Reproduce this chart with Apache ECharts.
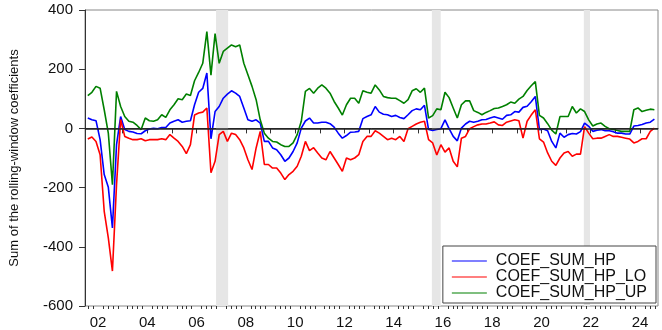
<!DOCTYPE html>
<html>
<head>
<meta charset="utf-8">
<script src="https://cdn.jsdelivr.net/npm/echarts@6/dist/echarts.min.js"></script>
<style>
  html, body { margin: 0; padding: 0; background: #fff; }
  #main { width: 662px; height: 330px; }
</style>
</head>
<body>
<div id="main"></div>
<script>
// observations every two months, first one Aug 2001 (decimal years)
const dates = [];
for (let k = 0; k < 139; k++) dates.push(2001 + (7 + 2 * k) / 12);

// COEF_SUM_HP (blue)
const coefHp = [
  35, 29, 26, -38, -156, -199, -336, -55, 40, -4,
  -10, -12, -17, -18, -8, -2, 0, -1, 3, 3,
  18, 24, 29, 21, 24, 26, 80, 122, 135, 187,
  -35, 57, 74, 102, 116, 127, 119, 108, 69, 29,
  24, 29, 18, -44, -44, -66, -72, -89, -111, -100,
  -78, -49, 1, 25, 35, 18, 18, 21, 21, 16,
  4, -16, -33, -24, -13, -12, -10, 33, 40, 46,
  74, 55, 48, 46, 40, 44, 37, 33, 46, 60,
  66, 63, 78, -4, -7, -4, -1, 29, -1, -27,
  -42, 1, 15, 24, 21, 24, 29, 30, 35, 39,
  35, 31, 44, 46, 57, 55, 71, 75, 90, 108,
  -4, -2, -8, -44, -66, -16, -30, -21, -17, -19,
  -11, 18, 7, -10, -6, -4, -8, -8, -11, -16,
  -16, -19, -19, 8, 10, 13, 18, 21, 31
];

// COEF_SUM_HP_LO (red)
const coefLo = [
  -36, -29, -44, -89, -280, -370, -482, -190, 30, -27,
  -33, -38, -38, -35, -42, -38, -38, -38, -35, -38,
  -21, -33, -44, -61, -85, -55, 45, 52, 55, 69,
  -150, -111, -21, -10, -44, -16, -21, -38, -66, -106,
  -139, -66, -10, -122, -122, -134, -134, -151, -173, -156,
  -145, -128, -94, -44, -75, -65, -83, -100, -106, -78,
  -100, -122, -145, -100, -106, -100, -89, -44, -27, -27,
  -8, -16, -27, -38, -33, -38, -27, -44, -1, 7,
  15, 21, 24, -38, -49, -90, -55, -80, -66, -111,
  -130, -33, -27, -1, 6, 12, 15, 15, 18, 22,
  12, 10, 21, 25, 29, 26, -33, 24, 45, 63,
  -35, -46, -83, -111, -125, -100, -83, -78, -94, -87,
  -87, 6, -16, -35, -33, -33, -27, -21, -27, -27,
  -30, -33, -36, -49, -44, -35, -35, -10, 1
];

// COEF_SUM_HP_UP (green)
const coefUp = [
  111, 122, 142, 136, 63, -16, -190, 125, 74, 40,
  24, 21, 10, -4, 35, 26, 24, 29, 46, 37,
  63, 80, 100, 97, 116, 111, 161, 189, 220, 327,
  180, 320, 220, 260, 271, 282, 276, 282, 220, 181,
  142, 97, 29, -16, -33, -44, -46, -55, -61, -61,
  -49, -21, 24, 125, 135, 119, 136, 147, 136, 119,
  91, 69, 45, 80, 102, 102, 85, 127, 122, 119,
  147, 130, 108, 104, 102, 102, 94, 85, 97, 127,
  134, 122, 136, 35, 43, 66, 63, 122, 104, 69,
  35, 80, 93, 93, 60, 54, 46, 54, 60, 67,
  69, 74, 80, 89, 85, 99, 108, 128, 144, 158,
  44, 35, 16, -6, -19, 40, 40, 40, 74, 52,
  66, 57, 29, 8, 15, 18, 7, -1, -4, -7,
  -10, -10, -10, 63, 69, 57, 61, 65, 63
];

// shaded periods (start, end) in decimal years
const shaded = [[2006.79, 2007.28], [2015.55, 2015.91], [2021.72, 2021.97]];

const yearTicks = [];
for (let y = 2002; y <= 2024; y++) yearTicks.push(y);
const yearLabels = yearTicks.filter(y => y % 2 === 0);

const xMin = 2001.47;
const xMax = 2024.73;

const minorTicks = [];
for (let y = 2001; y <= 2024; y++) {
  for (let j = 1; j < 5; j++) {
    const t = y + j / 5;
    if (t > xMin && t < xMax) minorTicks.push(t);
  }
}

const pairs = vals => vals.map((v, i) => [dates[i], v]);
const font = 'Liberation Sans';

const chart = echarts.init(document.getElementById('main'));
chart.setOption({
  animation: false,
  backgroundColor: '#fff',
  grid: {
    left: 85, right: 4, top: 10, bottom: 23,
    show: true, borderColor: '#888', borderWidth: 1
  },
  legend: {
    data: ['COEF_SUM_HP', 'COEF_SUM_HP_LO', 'COEF_SUM_HP_UP'],
    orient: 'vertical',
    right: 6,
    bottom: 27,
    icon: 'rect',
    itemWidth: 35,
    itemHeight: 1,
    itemGap: 0,
    padding: [7, 9, 2, 9],
    borderColor: '#444',
    borderWidth: 1,
    backgroundColor: '#fff',
    textStyle: { fontFamily: font, fontSize: 16, lineHeight: 15.5, color: '#111', padding: [0, 0, 0, 4] }
  },
  xAxis: [{
    type: 'value',
    min: xMin,
    max: xMax,
    axisLine: { lineStyle: { color: '#333' } },
    axisTick: { customValues: yearTicks, length: 5, lineStyle: { color: '#333' } },
    axisLabel: {
      customValues: yearLabels,
      formatter: v => String(Math.round(v) % 100).padStart(2, '0'),
      margin: 9,
      fontFamily: font,
      fontSize: 15,
      color: '#111'
    },
    splitLine: { show: false }
  }, {
    type: 'value',
    min: xMin,
    max: xMax,
    position: 'bottom',
    axisLine: { show: false },
    axisTick: { customValues: minorTicks, length: 3, lineStyle: { color: '#333' } },
    axisLabel: { show: false },
    splitLine: { show: false }
  }],
  yAxis: {
    type: 'value',
    min: -600,
    max: 400,
    interval: 200,
    name: 'Sum of the rolling-window coefficients',
    nameLocation: 'middle',
    nameRotate: 90,
    nameGap: 64,
    nameTextStyle: { fontFamily: font, fontSize: 13, color: '#111' },
    axisLine: { show: true, lineStyle: { color: '#333' } },
    axisTick: { show: true, length: 6, lineStyle: { color: '#333' } },
    axisLabel: { margin: 12, fontFamily: font, fontSize: 15, color: '#111' },
    splitLine: { show: false }
  },
  series: [
    {
      // background: shaded bands + zero line
      type: 'line',
      data: [],
      z: 1,
      silent: true,
      markArea: {
        silent: true,
        itemStyle: { color: '#e6e6e6' },
        data: shaded.map(s => [{ xAxis: s[0] }, { xAxis: s[1] }])
      },
      markLine: {
        silent: true,
        symbol: 'none',
        label: { show: false },
        lineStyle: { color: '#222', width: 1.5, type: 'solid' },
        data: [{ yAxis: 0 }]
      }
    },
    {
      name: 'COEF_SUM_HP',
      type: 'line',
      z: 3,
      symbol: 'none',
      color: '#0000ff',
      lineStyle: { width: 1.6 },
      data: pairs(coefHp)
    },
    {
      name: 'COEF_SUM_HP_LO',
      type: 'line',
      z: 3,
      symbol: 'none',
      color: '#ff0000',
      lineStyle: { width: 1.6 },
      data: pairs(coefLo)
    },
    {
      name: 'COEF_SUM_HP_UP',
      type: 'line',
      z: 3,
      symbol: 'none',
      color: '#008000',
      lineStyle: { width: 1.6 },
      data: pairs(coefUp)
    }
  ]
});
</script>
</body>
</html>
